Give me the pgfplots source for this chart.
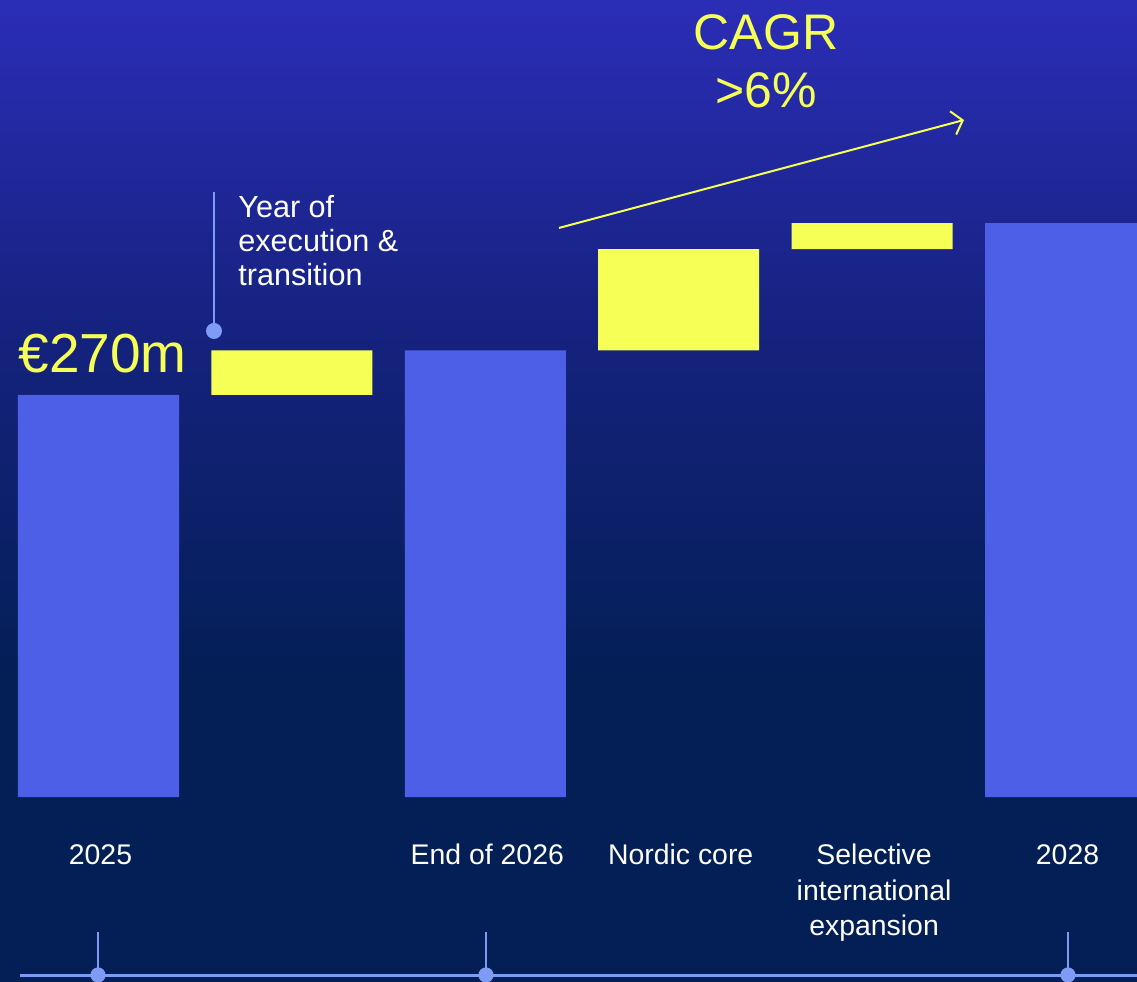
\documentclass[border=0pt]{standalone}
\usepackage{pgfplots}
\pgfplotsset{compat=1.18}
\usetikzlibrary{arrows.meta}
\usepackage{fontspec}
\setmainfont{Liberation Sans}
\definecolor{bgtop}{HTML}{2B2DB7}
\definecolor{bgmid}{HTML}{15227E}
\definecolor{bgbot}{HTML}{031F55}
\definecolor{barblue}{HTML}{4C5FE6}
\definecolor{baryel}{HTML}{F5FF55}
\definecolor{lineblue}{HTML}{7F9CF5}
\pgfdeclareverticalshading{bgshade}{100bp}{color(0bp)=(bgbot); color(25bp)=(bgbot); color(40bp)=(bgbot); color(58bp)=(bgmid); color(75bp)=(bgtop); color(100bp)=(bgtop)}
\begin{document}
\begin{tikzpicture}
\begin{axis}[
  scale only axis,
  width=568.5pt, height=491pt,
  xmin=-0.5093, xmax=5.3697,
  ymin=-124.25, ymax=535.3,
  axis background/.style={shading=bgshade},
  axis line style={draw=none},
  tick style={draw=none},
  ytick=\empty,
  xtick={0,2,3,4,5},
  xticklabels={2025,End of 2026,Nordic core,{\begin{tabular}[t]{@{}c@{}}Selective\\international\\expansion\end{tabular}},2028},
  xticklabel style={anchor=base, yshift=58.5pt, xshift=1pt, text=white, font=\fontsize{14.2}{17.75}\selectfont},
  ybar stacked,
  bar width=0.8325,
  clip=true,
]
\addplot[draw=none, fill=none, forget plot] coordinates {(0,0) (1,270) (2,0) (3,300) (4,368) (5,0)};
\addplot[draw=none, fill=barblue] coordinates {(0,270) (1,0) (2,300) (3,0) (4,0) (5,385.5)};
\addplot[draw=none, fill=baryel] coordinates {(0,0) (1,30) (2,0) (3,68) (4,17.5) (5,0)};
% annotation line with dot
\draw[lineblue, line width=1pt] (axis cs:0.5972,406.3) -- (axis cs:0.5972,313.0);
\fill[lineblue] (axis cs:0.5972,313.0) circle[radius=4pt];
\node[anchor=base west, align=left, text=white, inner sep=0pt, font=\fontsize{15.3}{17}\selectfont] at (axis cs:0.7213,343.2) {Year of\\execution \&\\transition};
\node[anchor=base west, text=baryel, font=\fontsize{27.5}{30}\selectfont, inner sep=0pt] at (axis cs:-0.4157,285.4) {€270m};
% CAGR
\node[anchor=base, align=center, text=baryel, font=\fontsize{25}{29}\selectfont, inner sep=0pt] at (axis cs:3.4514,463.4) {CAGR\\>6\%};
\draw[baryel, line width=1pt, -{Straight Barb[length=5pt, width=12pt]}] (axis cs:2.3811,382.2) -- (axis cs:4.4752,454.7);
% timeline
\draw[lineblue, line width=1.5pt] (axis cs:-0.4059,-119.55) -- (axis cs:5.4,-119.55);
\pgfplotsinvokeforeach{-0.0026,2.0036,5.0129}{
  \draw[lineblue, line width=1pt] (axis cs:#1,-90.67) -- (axis cs:#1,-119.55);
  \fill[lineblue] (axis cs:#1,-119.55) circle[radius=3.8pt];
}
\end{axis}
\end{tikzpicture}
\end{document}
